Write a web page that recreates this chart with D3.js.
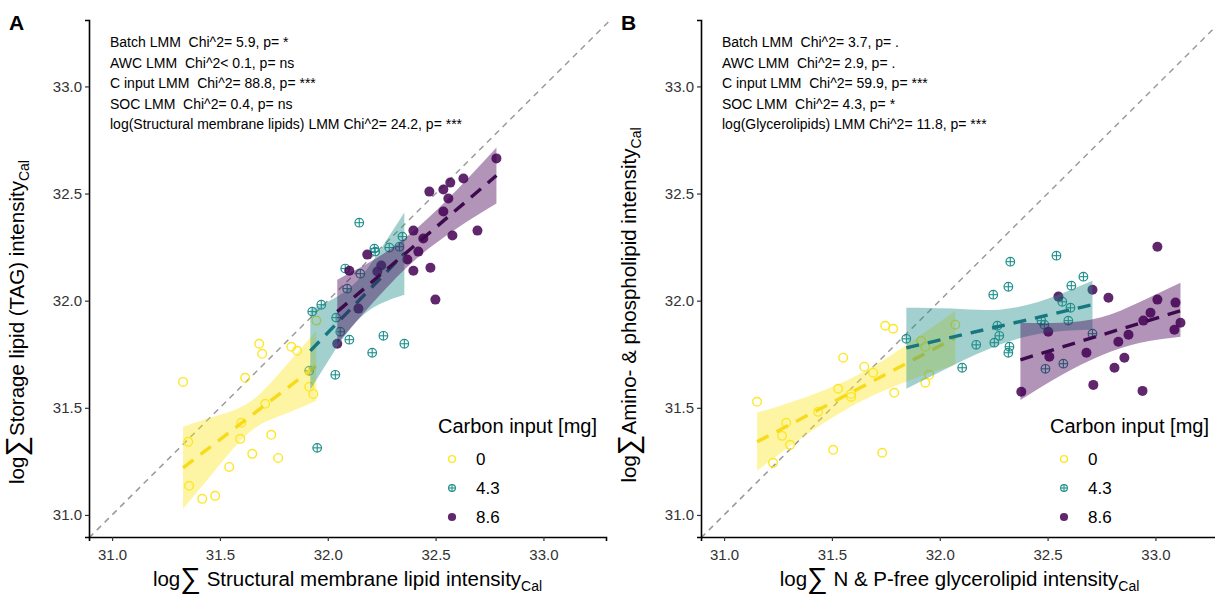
<!DOCTYPE html>
<html>
<head>
<meta charset="utf-8">
<script src="https://cdn.jsdelivr.net/npm/d3@7"></script>
<style>
  body { margin: 0; background: #fff; }
  text { font-family: "Liberation Sans", Arial, sans-serif; }
</style>
</head>
<body>
<div id="chart"></div>
<script>
// ==========================
// Data
// ==========================
const groups = ["0", "4.3", "8.6"];
const groupColors = ["#FDE725", "#21908C", "#440154"];
const lineColors = ["#F7DA1A", "#167780", "#3E0A4E"];
const ticks = [31.0, 31.5, 32.0, 32.5, 33.0];

// Panel A: structural membrane lipids (x) vs storage lipid TAG (y)
const a0 = [[31.329,31.621],[31.353,31.341],[31.357,31.136],[31.418,31.075],[31.478,31.089],[31.543,31.224],[31.594,31.355],[31.599,31.430],[31.617,31.640],[31.650,31.285],[31.682,31.799],[31.696,31.752],[31.710,31.519],[31.738,31.374],[31.770,31.266],[31.831,31.785],[31.858,31.766],[31.914,31.598],[31.933,31.565],[31.947,31.907]];
const a43 = [[31.914,31.673],[31.928,31.949],[31.970,31.981],[32.035,31.654],[31.951,31.313],[32.039,31.921],[32.058,31.855],[32.081,32.150],[32.090,32.056],[32.100,31.818],[32.146,32.364],[32.151,32.126],[32.206,31.757],[32.216,32.243],[32.220,32.229],[32.258,31.836],[32.285,32.248],[32.332,32.252],[32.346,32.299],[32.355,31.799]];
const a86 = [[32.044,31.799],[32.100,32.140],[32.142,31.963],[32.183,32.215],[32.230,32.136],[32.248,32.164],[32.369,32.192],[32.397,32.327],[32.397,32.140],[32.420,32.229],[32.443,32.290],[32.471,32.509],[32.476,32.154],[32.499,32.005],[32.536,32.519],[32.536,32.416],[32.559,32.477],[32.568,32.551],[32.578,32.304],[32.629,32.570],[32.694,32.327],[32.782,32.664]];
// fitted lines [x, y] and confidence bands [x, lower, upper]
const aFit0 = [[31.329,31.220],[31.947,31.696]];
const aFit43 = [[31.919,31.766],[32.355,32.220]];
const aFit86 = [[32.044,31.949],[32.782,32.584]];
const aBand0 = [[31.329,31.028,31.411],[31.478,31.208,31.460],[31.640,31.388,31.528],[31.793,31.467,31.682],[31.947,31.533,31.860]];
const aBand43 = [[31.919,31.584,31.958],[32.026,31.757,32.009],[32.137,31.907,32.093],[32.244,31.986,32.238],[32.355,32.028,32.411]];
const aBand86 = [[32.044,31.799,32.098],[32.230,32.014,32.201],[32.411,32.196,32.336],[32.596,32.336,32.514],[32.782,32.453,32.715]];
const statsA = [
    "Batch LMM  Chi^2= 5.9, p= *",
    "AWC LMM  Chi^2< 0.1, p= ns",
    "C input LMM  Chi^2= 88.8, p= ***",
    "SOC LMM  Chi^2= 0.4, p= ns",
    "log(Structural membrane lipids) LMM Chi^2= 24.2, p= ***"
];

// Panel B: N & P-free glycerolipids (x) vs amino- & phospholipids (y)
const b0 = [[31.153,31.528],[31.227,31.243],[31.269,31.369],[31.288,31.430],[31.306,31.327],[31.436,31.481],[31.506,31.304],[31.529,31.589],[31.552,31.734],[31.589,31.565],[31.589,31.551],[31.650,31.692],[31.691,31.664],[31.733,31.290],[31.747,31.883],[31.784,31.869],[31.789,31.570],[31.914,31.813],[31.933,31.785],[31.933,31.617],[31.951,31.654],[32.072,31.888]];
const b43 = [[31.845,31.822],[32.104,31.687],[32.169,31.794],[32.248,32.028],[32.253,31.804],[32.267,31.883],[32.276,31.836],[32.318,32.065],[32.318,31.757],[32.323,31.785],[32.327,32.182],[32.471,31.907],[32.485,31.888],[32.490,31.682],[32.541,32.210],[32.568,31.995],[32.573,31.706],[32.596,31.907],[32.606,31.967],[32.610,32.070],[32.666,32.112],[32.708,31.846]];
const b86 = [[32.378,31.575],[32.503,31.855],[32.508,31.738],[32.550,32.019],[32.680,31.757],[32.708,32.051],[32.712,31.607],[32.782,32.014],[32.810,31.687],[32.828,31.808],[32.856,31.734],[32.875,31.841],[32.940,31.579],[32.944,31.907],[32.977,31.944],[33.009,32.252],[33.009,32.005],[33.088,31.864],[33.093,31.991],[33.116,31.897]];
const bFit0 = [[31.153,31.341],[32.072,31.827]];
const bFit43 = [[31.845,31.780],[32.708,31.981]];
const bFit86 = [[32.374,31.724],[33.116,31.953]];
const bBand0 = [[31.153,31.206,31.477],[31.381,31.374,31.551],[31.613,31.519,31.650],[31.840,31.621,31.790],[32.072,31.701,31.953]];
const bBand43 = [[31.845,31.589,31.967],[32.058,31.696,31.963],[32.276,31.794,31.958],[32.490,31.850,32.005],[32.708,31.864,32.093]];
const bBand86 = [[32.374,31.537,31.897],[32.559,31.650,31.897],[32.745,31.743,31.921],[32.930,31.804,31.995],[33.116,31.832,32.084]];
const statsB = [
    "Batch LMM  Chi^2= 3.7, p= .",
    "AWC LMM  Chi^2= 2.9, p= .",
    "C input LMM  Chi^2= 59.9, p= ***",
    "SOC LMM  Chi^2= 4.3, p= *",
    "log(Glycerolipids) LMM Chi^2= 11.8, p= ***"
];

// ==========================
// Layout
// ==========================
const width = 1215;
const height = 594;
const plotTop = 20;
const plotBottom = 537;
const plotW = 517;
const xDomain = [30.893, 33.29];
const yDomain = [30.897, 33.31];

const panels = [
    { label: "A", left: 89, points: [a0, a43, a86], fits: [aFit0, aFit43, aFit86], bands: [aBand0, aBand43, aBand86],
      stats: statsA, xTitle: " Structural membrane lipid intensity", yTitle: "Storage lipid (TAG) intensity", yTitleY: 322 },
    { label: "B", left: 701, points: [b0, b43, b86], fits: [bFit0, bFit43, bFit86], bands: [bBand0, bBand43, bBand86],
      stats: statsB, xTitle: " N & P-free glycerolipid intensity", yTitle: "Amino- & phospholipid intensity", yTitleY: 305 }
];

const svg = d3.select("#chart")
    .append("svg")
    .attr("width", width)
    .attr("height", height);

// ==========================
// Helpers
// ==========================
function drawSymbol(g, cx, cy, gi, r) {
    const col = groupColors[gi];
    if (gi === 0) {
        g.append("circle").attr("cx", cx).attr("cy", cy).attr("r", r)
            .attr("fill", "none").attr("stroke", col).attr("stroke-width", 1.4);
    } else if (gi === 1) {
        g.append("circle").attr("cx", cx).attr("cy", cy).attr("r", r)
            .attr("fill", "none").attr("stroke", col).attr("stroke-width", 1.2);
        g.append("line").attr("x1", cx - r).attr("x2", cx + r).attr("y1", cy).attr("y2", cy)
            .attr("stroke", col).attr("stroke-width", 1.1);
        g.append("line").attr("x1", cx).attr("x2", cx).attr("y1", cy - r).attr("y2", cy + r)
            .attr("stroke", col).attr("stroke-width", 1.1);
    } else {
        g.append("circle").attr("cx", cx).attr("cy", cy).attr("r", r + 0.7)
            .attr("fill", col).attr("fill-opacity", 0.85);
    }
}

function axisTitle(x, y, rot, body) {
    const t = svg.append("text")
        .attr("transform", `translate(${x},${y}) rotate(${rot})`)
        .attr("text-anchor", "middle")
        .attr("font-size", 20.5)
        .attr("fill", "#000")
        .style("white-space", "pre");
    t.append("tspan").text("log");
    t.append("tspan").attr("font-size", 29).attr("dy", 2).text("∑");
    t.append("tspan").attr("dy", -2).text(body);
    t.append("tspan").attr("font-size", 14).attr("dy", 5).text("Cal");
}

function drawPanel(p) {
    const x = d3.scaleLinear().domain(xDomain).range([p.left, p.left + plotW]);
    const y = d3.scaleLinear().domain(yDomain).range([plotBottom, plotTop]);
    const g = svg.append("g");

    // 1:1 line
    g.append("line")
        .attr("x1", x(xDomain[0])).attr("y1", y(xDomain[0]))
        .attr("x2", x(yDomain[1])).attr("y2", y(yDomain[1]))
        .attr("stroke", "#9a9a9a").attr("stroke-width", 1.5)
        .attr("stroke-dasharray", "6,5");

    // points
    p.points.forEach((pts, gi) => {
        pts.forEach(d => drawSymbol(g, x(d[0]), y(d[1]), gi, 4.3));
    });

    // confidence bands and fitted lines
    const area = d3.area()
        .x(d => x(d[0]))
        .y0(d => y(d[1]))
        .y1(d => y(d[2]))
        .curve(d3.curveNatural);
    const line = d3.line().x(d => x(d[0])).y(d => y(d[1]));
    p.bands.forEach((band, gi) => {
        g.append("path")
            .attr("d", area(band))
            .attr("fill", groupColors[gi])
            .attr("fill-opacity", 0.42);
        g.append("path")
            .attr("d", line(p.fits[gi]))
            .attr("fill", "none")
            .attr("stroke", lineColors[gi])
            .attr("stroke-width", 3.4)
            .attr("stroke-dasharray", "13,9");
    });

    // axes
    const xAxis = g.append("g")
        .attr("transform", `translate(0,${plotBottom})`)
        .call(d3.axisBottom(x).tickValues(ticks).tickFormat(d3.format(".1f")).tickSizeOuter(0).tickSize(4));
    const yAxis = g.append("g")
        .attr("transform", `translate(${p.left},0)`)
        .call(d3.axisLeft(y).tickValues(ticks).tickFormat(d3.format(".1f")).tickSizeOuter(0).tickSize(4));
    [xAxis, yAxis].forEach(ax => {
        ax.select(".domain").attr("stroke", "#000").attr("stroke-width", 1.6);
        ax.selectAll(".tick line").attr("stroke", "#333").attr("stroke-width", 1.2);
        ax.selectAll(".tick text")
            .attr("font-size", 15)
            .attr("fill", "#333")
            .style("font-family", "'Liberation Sans', Arial, sans-serif");
    });
    xAxis.selectAll(".tick text").attr("dy", "1.05em");

    // statistics text
    g.selectAll(".stat")
        .data(p.stats)
        .enter()
        .append("text")
        .attr("x", p.left + 21)
        .attr("y", (d, i) => 47 + i * 20.5)
        .attr("font-size", 14)
        .attr("fill", "#000")
        .style("white-space", "pre")
        .text(d => d);

    // legend
    const lg = g.append("g").attr("transform", `translate(${p.left + 349}, 0)`);
    lg.append("text")
        .attr("x", 0).attr("y", 433)
        .attr("font-size", 20)
        .text("Carbon input [mg]");
    groups.forEach((name, gi) => {
        const cy = 459 + gi * 29;
        drawSymbol(lg, 14, cy, gi, 3.4);
        lg.append("text")
            .attr("x", 38).attr("y", cy + 6)
            .attr("font-size", 17)
            .text(name);
    });

    // panel letter
    svg.append("text")
        .attr("x", p.left - 80).attr("y", 30)
        .attr("font-size", 21)
        .attr("font-weight", "bold")
        .text(p.label);

    // axis titles
    axisTitle(p.left + plotW / 2, 586, 0, p.xTitle);
    axisTitle(p.left - 65, p.yTitleY, -90, p.yTitle);
}

panels.forEach(drawPanel);
</script>
</body>
</html>
